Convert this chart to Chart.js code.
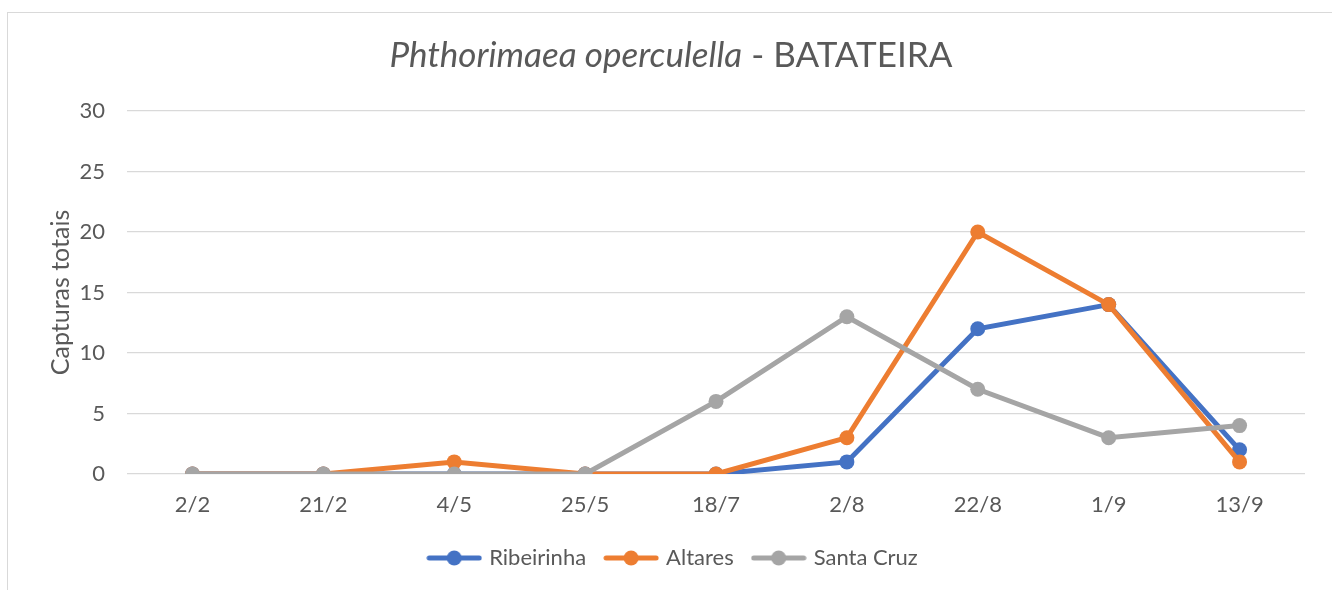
<!DOCTYPE html>
<html>
<head>
<meta charset="utf-8">
<script src="https://cdn.jsdelivr.net/npm/chart.js@4.4.1/dist/chart.umd.min.js"></script>
<style>
  html, body { margin: 0; padding: 0; background: #fff; overflow: hidden; }
  #wrap { position: relative; width: 1332px; height: 590px; }
  #frame { position: absolute; left: 7px; top: 12px; width: 1340px; height: 600px; border: 1px solid #d9d9d9; box-sizing: border-box; }
  canvas { position: absolute; left: 0; top: 0; }
</style>
</head>
<body>
<div id="wrap">
  <div id="frame"></div>
  <canvas id="chart" width="1332" height="590"></canvas>
</div>
<script>
// data
var dates = ["2/2", "21/2", "4/5", "25/5", "18/7", "2/8", "22/8", "1/9", "13/9"];
var ribeirinha = [0, 0, 0, 0, 0, 1, 12, 14, 2];
var altares = [0, 0, 1, 0, 0, 3, 20, 14, 1];
var santaCruz = [0, 0, 0, 0, 6, 13, 7, 3, 4];
var yTicks = [0, 5, 10, 15, 20, 25, 30];

var FONT = "Lato";
var TXT = "#595959";

function legendMark(color) {
  var c = document.createElement("canvas");
  c.width = 56; c.height = 18;
  var g = c.getContext("2d");
  g.strokeStyle = color; g.lineWidth = 5; g.lineCap = "round";
  g.beginPath(); g.moveTo(3, 9); g.lineTo(53, 9); g.stroke();
  g.fillStyle = color;
  g.beginPath(); g.arc(28, 9, 7.5, 0, Math.PI * 2); g.fill();
  return c;
}

function series(label, data, color, order) {
  return {
    label: label,
    data: data,
    borderColor: color,
    backgroundColor: color,
    pointBackgroundColor: color,
    pointBorderColor: color,
    pointBorderWidth: 0,
    pointRadius: 7.5,
    pointHoverRadius: 7.5,
    borderWidth: 5,
    tension: 0,
    order: order,
    pointStyle: 'circle',
    mark: legendMark(color)
  };
}

var titlePlugin = {
  id: 'mixedTitle',
  afterDraw: function(chart) {
    var ctx = chart.ctx;
    var a = "Phthorimaea operculella", b = " - BATATEIRA";
    ctx.save();
    ctx.fillStyle = TXT;
    ctx.textBaseline = "middle";
    ctx.font = "italic 35px " + FONT;
    var wa = ctx.measureText(a).width;
    ctx.font = "35px " + FONT;
    var wb = ctx.measureText(b).width;
    var x = 671 - (wa + wb) / 2, y = 56;
    ctx.font = "italic 35px " + FONT;
    ctx.fillText(a, x, y);
    ctx.font = "35px " + FONT;
    ctx.fillText(b, x + wa, y);
    ctx.restore();
  }
};

var ctx = document.getElementById("chart");
var myChart = new Chart(ctx, {
  type: 'line',
  data: {
    labels: dates,
    datasets: [
      series("Ribeirinha", ribeirinha, "#4472C4", 3),
      series("Altares", altares, "#ED7D31", 2),
      series("Santa Cruz", santaCruz, "#A5A5A5", 1)
    ]
  },
  options: {
    responsive: false,
    animation: false,
    layout: { padding: { top: 111, right: 27, left: 43, bottom: 11 } },
    plugins: {
      title: { display: false },
      tooltip: { enabled: false },
      legend: {
        position: 'bottom',
        labels: {
          usePointStyle: true,
          pointStyleWidth: 48,
          padding: 21,
          color: TXT,
          font: { family: FONT, size: 22 },
          generateLabels: function(chart) {
            return chart.data.datasets.map(function(ds, i) {
              return { text: ds.label, pointStyle: ds.mark, fontColor: TXT, datasetIndex: i, lineWidth: 0, strokeStyle: ds.borderColor, fillStyle: ds.borderColor };
            });
          }
        }
      }
    },
    scales: {
      x: {
        offset: true,
        grid: { display: false, drawTicks: false },
        border: { display: false },
        ticks: { color: TXT, font: { family: FONT, size: 22 }, padding: 18, maxRotation: 0 },
        afterFit: function(s) { s.height = 52; }
      },
      y: {
        min: 0, max: 30,
        afterBuildTicks: function(s) { s.ticks = yTicks.map(function(v) { return { value: v }; }); },
        grid: { color: "#d9d9d9", lineWidth: 1.3, drawTicks: false },
        border: { display: false },
        ticks: { color: TXT, font: { family: FONT, size: 22 }, padding: 22 },
        title: { display: true, text: "Capturas totais", color: TXT, font: { family: FONT, size: 25 }, padding: { top: 3, bottom: 0 } },
        afterFit: function(s) { s.width = 84; }
      }
    }
  },
  plugins: [titlePlugin]
});
</script>
</body>
</html>
